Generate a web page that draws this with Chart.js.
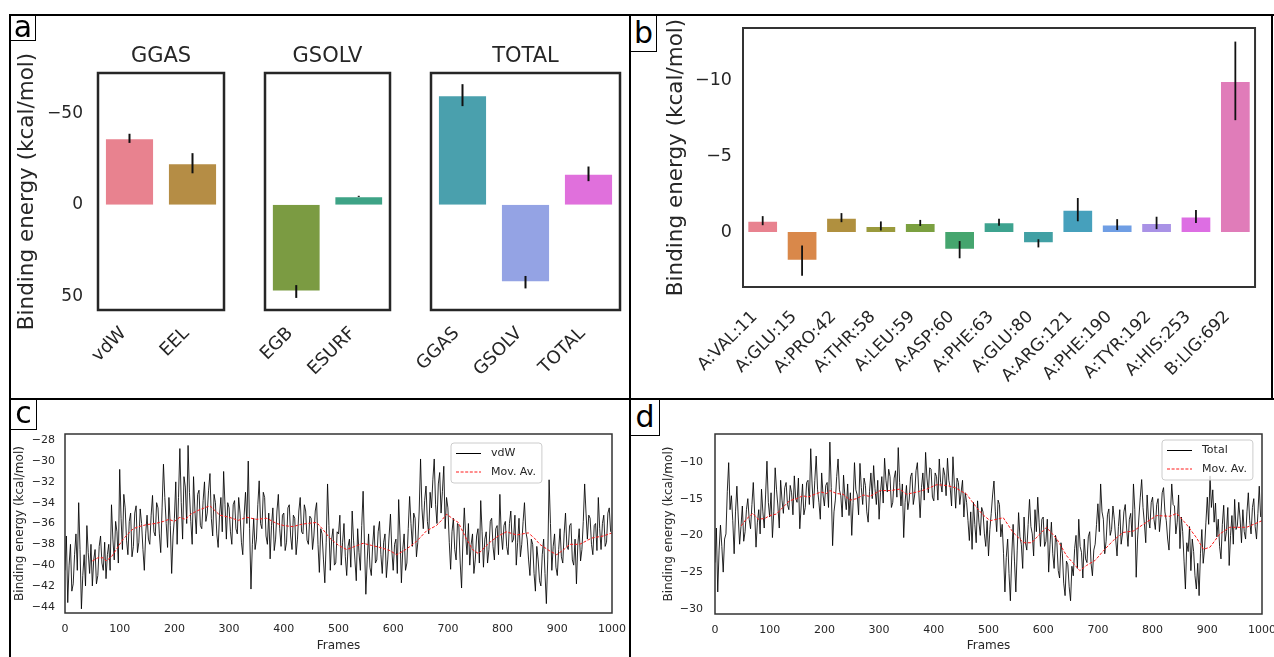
<!DOCTYPE html>
<html>
<head>
<meta charset="utf-8">
<title>Binding energy</title>
<script src="https://cdn.jsdelivr.net/npm/chart.js@4.4.1/dist/chart.umd.min.js"></script>
<style>
  body { margin: 0; background: #fff; overflow: hidden; font-family: "DejaVu Sans", sans-serif; }
  #fig { position: relative; width: 1274px; height: 657px; overflow: hidden; }
  canvas { position: absolute; }
  .rule { position: absolute; background: #000; }
  .tag { position: absolute; border: 1.5px solid #000; background: #fff; color: #000;
         font-size: 30px; text-align: center; box-sizing: border-box; }
</style>
</head>
<body>
<div id="fig">
  <canvas id="ggasChart" width="220" height="355" style="left:12px;top:40px"></canvas>
  <canvas id="gsolvChart" width="178" height="355" style="left:220px;top:40px"></canvas>
  <canvas id="totalChart" width="242" height="355" style="left:386px;top:40px"></canvas>
  <canvas id="residueChart" width="638" height="397" style="left:632px;top:0px"></canvas>
  <canvas id="vdwChart" width="626" height="255" style="left:12px;top:402px"></canvas>
  <canvas id="totalTraceChart" width="656" height="255" style="left:632px;top:402px"></canvas>

  <div class="rule" style="left:9px;top:14px;width:1265px;height:2px"></div>
  <div class="rule" style="left:9px;top:14px;width:2px;height:643px"></div>
  <div class="rule" style="left:629px;top:14px;width:2px;height:643px"></div>
  <div class="rule" style="left:9px;top:398px;width:1265px;height:2px"></div>
  <div class="rule" style="left:1271px;top:14px;width:2px;height:386px"></div>

  <div class="tag" style="left:10px;top:15px;width:26px;height:26px;line-height:22px">a</div>
  <div class="tag" style="left:630px;top:15px;width:27px;height:37px;line-height:34px">b</div>
  <div class="tag" style="left:10px;top:399px;width:27px;height:31px;line-height:26px">c</div>
  <div class="tag" style="left:630px;top:399px;width:30px;height:37px;line-height:34px">d</div>
</div>

<script>
// panel a: energy terms (kcal/mol), axis reversed
const ggasLabels = ['vdW', 'EEL'];
const ggasValues = [-36.3, -22.7];
const ggasErrors = [2.5, 5.5];
const ggasColors = ['#e8828f', '#b58d45'];

const gsolvLabels = ['EGB', 'ESURF'];
const gsolvValues = [47.4, -4.6];
const gsolvErrors = [3.5, 0.3];
const gsolvColors = ['#7b9b42', '#3ea386'];

const totalLabels = ['GGAS', 'GSOLV', 'TOTAL'];
const totalValues = [-59.9, 42.3, -16.9];
const totalErrors = [6.0, 3.4, 4.0];
const totalColors = ['#4aa0ad', '#94a3e4', '#e070dc'];

const energyTicks = [-50, 0, 50];

// panel b: per-residue decomposition
const residues = ['A:VAL:11', 'A:GLU:15', 'A:PRO:42', 'A:THR:58', 'A:LEU:59', 'A:ASP:60', 'A:PHE:63',
  'A:GLU:80', 'A:ARG:121', 'A:PHE:190', 'A:TYR:192', 'A:HIS:253', 'B:LIG:692'];
const residueValues = [-0.75, 1.9, -0.95, -0.4, -0.6, 1.17, -0.64, 0.75, -1.48, -0.49, -0.6, -1.02, -10.0];
const residueErrors = [0.3, 1.0, 0.3, 0.3, 0.2, 0.57, 0.23, 0.27, 0.77, 0.36, 0.41, 0.43, 2.6];
const residueColors = ['#e8828f', '#d9884a', '#b0903f', '#9a9a3c', '#7ba040', '#45a56e', '#3ea38f',
  '#41a0a4', '#46a0bc', '#6f9ee4', '#a992e6', '#dd6ee3', '#e07cb9'];
const residueTicks = [-10, -5, 0];

// panels c and d: frames sampled every 2.5
const frames = Array.from({ length: 400 }, (_, i) => i * 2.5);
const frameTicks = [0, 100, 200, 300, 400, 500, 600, 700, 800, 900, 1000];

const vdwValues = [
  -40.5, -37.2, -43.6, -40.0, -38.0, -42.5, -41.8, -39.0, -37.0, -40.5, -34.0, -38.5, -44.2, -41.0, -39.0, -42.0, -36.2, -38.8, -40.8, -38.0,
  -42.0, -39.5, -38.5, -41.8, -41.0, -38.2, -37.2, -39.8, -40.5, -37.8, -41.3, -39.0, -38.0, -40.5, -34.2, -37.5, -39.5, -35.8, -36.8, -39.8,
  -30.8, -35.5, -38.5, -33.2, -34.5, -37.6, -39.0, -35.8, -35.0, -39.2, -38.2, -35.0, -34.3, -38.8, -37.8, -34.6, -36.0, -38.5, -40.5, -37.0,
  -35.2, -37.5, -38.0, -35.2, -33.3, -36.8, -37.2, -34.0, -34.5, -37.0, -38.8, -34.5, -30.3, -33.5, -36.0, -38.3, -33.5, -36.2, -40.8, -37.2,
  -35.5, -32.0, -38.0, -33.5, -28.8, -34.0, -37.5, -31.5, -32.5, -36.0, -28.5, -33.0, -35.8, -38.0, -31.5, -34.8, -37.0, -33.2, -32.8, -36.2,
  -36.5, -33.8, -32.0, -35.8, -35.0, -32.8, -31.2, -35.5, -37.2, -33.2, -34.0, -37.0, -38.3, -35.2, -33.5, -36.8, -31.0, -34.2, -37.5, -34.0,
  -34.5, -36.8, -38.0, -34.2, -33.8, -36.5, -37.0, -33.5, -35.0, -37.8, -39.0, -35.2, -33.0, -36.0, -30.0, -36.5, -42.3, -38.0, -35.5, -38.5,
  -37.5, -34.2, -31.9, -36.0, -36.5, -33.0, -33.5, -37.2, -38.0, -35.0, -39.4, -36.2, -34.5, -38.6, -37.5, -34.8, -33.2, -36.5, -38.2, -35.2,
  -35.0, -38.6, -37.8, -34.5, -34.2, -37.2, -38.5, -35.2, -35.5, -39.0, -37.5, -34.8, -33.5, -36.8, -37.0, -34.2, -34.8, -37.6, -38.0, -35.3,
  -35.5, -38.5, -37.2, -34.8, -34.0, -38.0, -40.7, -36.5, -37.0, -39.5, -41.7, -37.8, -32.2, -36.2, -40.5, -37.5, -36.5, -40.0, -39.8, -36.8,
  -37.0, -35.2, -40.0, -37.8, -36.0, -39.2, -41.0, -38.2, -37.5, -40.2, -34.8, -37.6, -39.5, -41.5, -36.5, -38.8, -40.5, -36.2, -32.9, -38.0,
  -42.8, -39.5, -37.0, -40.2, -41.0, -38.0, -36.2, -39.8, -39.5, -36.8, -35.8, -39.0, -40.8, -37.8, -37.0, -41.2, -39.5, -37.2, -35.1, -38.6,
  -40.5, -38.0, -37.5, -40.8, -33.7, -37.2, -41.7, -38.5, -37.0, -40.5, -39.8, -36.5, -33.4, -36.0, -38.2, -35.0, -35.5, -39.2, -37.8, -34.8,
  -29.8, -34.5, -36.5, -33.8, -32.4, -35.8, -37.0, -33.0, -34.5, -31.8, -29.8, -34.2, -36.0, -32.2, -31.1, -35.0, -32.9, -30.5, -36.5, -33.5,
  -34.5, -37.8, -40.4, -36.8, -35.5, -38.5, -39.5, -36.0, -36.2, -39.8, -42.2, -37.5, -34.5, -37.2, -39.0, -36.0, -40.0, -38.0, -37.0, -40.8,
  -39.5, -37.2, -36.5, -39.8, -33.8, -36.8, -40.2, -37.5, -36.8, -39.8, -38.5, -35.8, -35.5, -38.2, -39.5, -36.5, -36.2, -39.0, -33.2, -37.0,
  -38.5, -36.2, -35.8, -38.2, -39.0, -36.0, -34.8, -37.8, -37.5, -35.2, -40.0, -37.8, -35.5, -39.2, -38.0, -35.8, -34.0, -36.8, -37.5, -39.5,
  -41.0, -37.5, -38.0, -40.8, -42.5, -38.2, -39.5, -41.5, -42.0, -39.0, -37.5, -40.8, -43.7, -39.5, -31.8, -36.0, -40.5, -38.2, -37.0, -40.2,
  -41.0, -38.5, -36.5, -39.2, -39.8, -37.0, -35.0, -38.2, -38.5, -36.2, -36.0, -39.5, -40.0, -37.5, -41.8, -38.0, -36.5, -39.6, -38.5, -35.8,
  -32.2, -35.0, -37.5, -35.2, -35.5, -38.0, -39.0, -36.2, -36.0, -38.6, -33.5, -36.5, -38.5, -36.0, -35.2, -38.2, -37.8, -35.0, -34.5, -36.8
];
const vdwAvgFrames = [50, 60, 70, 75, 85, 95, 105, 115, 125, 135, 150, 165, 180, 190, 200, 210, 220, 230,
  245, 265, 283, 300, 317, 332, 350, 369, 387, 400, 417, 430, 442, 460, 472, 484, 500, 515, 530, 545,
  560, 576, 594, 606, 620, 631, 643, 661, 679, 690, 698, 710, 719, 734, 745, 756, 767, 777, 792, 807,
  826, 847, 858, 868, 885, 899, 912, 923, 941, 963, 984, 1000];
const vdwAvgValues = [-39.6, -39.3, -39.3, -39.6, -39.2, -38.4, -37.6, -37.0, -36.5, -36.3, -36.1, -36.0,
  -35.8, -35.6, -35.8, -35.4, -35.6, -35.1, -34.7, -34.3, -35.2, -35.4, -35.7, -35.4, -35.6, -35.5,
  -36.0, -36.2, -36.3, -36.1, -36.0, -35.9, -36.6, -37.4, -38.1, -38.5, -38.2, -37.9, -38.1, -38.3,
  -38.6, -39.0, -38.6, -38.2, -37.7, -36.7, -36.2, -35.6, -35.1, -35.6, -35.9, -37.5, -38.5, -38.9,
  -38.3, -37.8, -37.2, -36.8, -37.1, -36.9, -37.4, -38.0, -38.6, -39.0, -38.5, -38.0, -38.0, -37.4,
  -37.2, -36.9];
const vdwTicks = [-44, -42, -40, -38, -36, -34, -32, -30, -28];

const totalTraceValues = [
  -23.7, -19.0, -27.7, -22.0, -18.6, -21.5, -25.0, -20.5, -19.8, -14.0, -10.1, -16.5, -14.6, -18.0, -22.5, -16.8, -13.3, -17.5, -21.2, -18.8,
  -16.0, -20.8, -19.5, -16.5, -15.0, -17.8, -19.1, -15.8, -12.8, -17.0, -21.6, -18.2, -16.5, -19.8, -13.7, -16.8, -19.0, -14.5, -9.9, -15.5,
  -17.5, -14.2, -20.3, -16.8, -10.8, -13.8, -16.0, -19.0, -12.5, -15.2, -17.0, -13.5, -12.8, -15.8, -16.5, -13.2, -14.2, -17.2, -11.9, -15.0,
  -15.5, -12.2, -19.1, -16.0, -13.0, -17.2, -16.2, -12.8, -12.5, -15.8, -8.2, -13.0, -16.3, -12.5, -9.2, -13.8, -15.5, -17.8, -11.5, -14.5,
  -16.0, -13.2, -12.8, -16.2, -7.3, -13.5, -21.4, -16.8, -15.2, -12.0, -9.6, -13.8, -14.6, -17.5, -11.8, -14.8, -16.5, -13.0, -17.3, -14.2,
  -20.0, -15.5, -10.1, -13.8, -14.5, -17.2, -10.2, -13.5, -15.8, -12.2, -13.2, -16.8, -18.2, -14.0, -11.5, -15.0, -10.5, -13.6, -15.8, -12.5,
  -17.8, -14.2, -12.0, -15.6, -9.5, -12.5, -14.1, -11.0, -12.0, -16.2, -15.5, -12.2, -11.2, -14.8, -8.05, -12.8, -16.0, -13.0, -20.3, -15.5,
  -13.2, -16.5, -15.2, -12.0, -11.5, -15.8, -14.5, -11.2, -10.1, -14.0, -17.6, -13.5, -11.5, -15.2, -8.7, -12.2, -14.2, -10.8, -11.0, -14.8,
  -15.3, -11.5, -12.0, -15.2, -9.6, -12.8, -14.1, -10.8, -11.8, -14.6, -9.5, -12.5, -13.5, -16.0, -9.3, -13.0, -16.3, -12.2, -12.8, -15.8,
  -14.1, -12.5, -17.5, -14.2, -15.5, -18.0, -20.7, -16.8, -21.9, -15.5, -18.5, -21.0, -15.3, -18.2, -20.0, -16.2, -16.8, -19.8, -21.5, -18.0,
  -22.8, -19.2, -17.0, -14.5, -12.6, -16.8, -19.5, -15.2, -15.8, -20.2, -18.5, -22.5, -27.7, -23.0, -20.5, -25.2, -28.9, -22.8, -18.5, -23.5,
  -27.7, -22.0, -16.9, -20.2, -21.2, -24.5, -17.5, -21.0, -22.0, -18.5, -15.1, -18.8, -19.8, -22.8, -16.5, -19.5, -14.8, -18.2, -21.5, -17.8,
  -17.5, -21.5, -20.8, -17.8, -25.0, -21.2, -18.2, -22.5, -24.5, -20.0, -21.0, -24.8, -25.8, -21.0, -22.5, -26.5, -28.2, -23.5, -24.0, -27.0,
  -28.9, -24.2, -25.5, -21.8, -20.0, -24.5, -17.8, -21.5, -22.3, -25.8, -20.5, -23.2, -23.7, -20.2, -19.5, -23.8, -25.5, -22.0, -21.2, -18.5,
  -15.7, -19.5, -13.0, -16.8, -17.8, -22.5, -20.8, -17.2, -16.4, -20.0, -19.2, -16.0, -17.8, -20.5, -22.8, -18.8, -16.5, -21.2, -19.8, -16.8,
  -15.8, -19.0, -21.5, -17.8, -17.0, -20.2, -13.0, -16.5, -25.7, -20.5, -17.5, -14.8, -12.4, -16.2, -18.4, -21.0, -14.5, -17.8, -19.0, -15.5,
  -14.8, -17.8, -19.2, -15.8, -15.0, -19.5, -17.5, -14.2, -13.5, -16.8, -18.0, -20.5, -22.0, -17.2, -13.0, -15.8, -16.0, -19.8, -18.2, -14.5,
  -21.8, -17.5, -19.5, -23.5, -27.3, -21.0, -22.2, -18.8, -24.8, -20.5, -22.2, -25.5, -27.3, -23.8, -28.2, -22.5, -19.2, -23.8, -21.8, -18.2,
  -14.8, -18.5, -11.9, -16.2, -13.8, -18.2, -15.6, -20.2, -17.8, -21.5, -23.2, -18.5, -15.9, -20.8, -19.5, -16.2, -24.1, -20.0, -17.3, -21.2,
  -15.1, -19.2, -18.7, -15.5, -17.8, -21.0, -16.5, -19.5, -20.5, -16.8, -14.2, -18.0, -19.8, -16.2, -15.0, -18.8, -20.5, -17.0, -13.3, -17.5
];
const totalAvgFrames = [48, 57, 69, 79, 91, 100, 112, 124, 136, 149, 161, 170, 179, 194, 204, 210, 222, 234,
  247, 259, 271, 283, 302, 320, 338, 350, 369, 387, 405, 423, 439, 460, 478, 490, 503, 521, 527, 545,
  564, 579, 594, 606, 625, 643, 661, 667, 679, 695, 710, 728, 746, 765, 783, 807, 832, 844, 862, 880,
  893, 905, 923, 941, 972, 1000];
const totalAvgValues = [-18.7, -17.8, -17.0, -17.8, -17.7, -17.3, -17.1, -16.2, -15.3, -15.0, -14.6, -14.8,
  -14.5, -14.1, -14.3, -13.9, -14.3, -14.4, -15.2, -15.0, -14.5, -14.7, -13.9, -13.9, -13.7, -14.4,
  -14.1, -13.7, -13.1, -13.2, -13.5, -14.4, -16.2, -17.2, -18.0, -17.7, -17.6, -19.6, -21.0, -21.0,
  -19.8, -18.9, -20.5, -22.8, -24.3, -24.8, -24.1, -23.4, -22.1, -20.7, -19.6, -19.4, -18.5, -17.3,
  -17.4, -17.0, -18.5, -20.3, -21.9, -21.6, -19.8, -18.9, -18.9, -18.0];
const totalTraceTicks = [-30, -25, -20, -15, -10];

const font = '"DejaVu Sans", sans-serif';
const ink = '#262626';
Chart.defaults.font.family = font;

function minus(v) {
  return String(v).replace('-', '\u2212');
}

function fixedTicks(list) {
  return function (scale) {
    scale.ticks = list.map(v => ({ value: v }));
  };
}

// frame around the plotting area
function boxFrame(color, width) {
  return {
    id: 'boxFrame',
    afterDatasetsDraw(chart) {
      const { ctx, chartArea: a } = chart;
      ctx.save();
      ctx.strokeStyle = color;
      ctx.lineWidth = width;
      ctx.strokeRect(a.left, a.top, a.right - a.left, a.bottom - a.top);
      ctx.restore();
    }
  };
}

function errorBars(errors, width) {
  return {
    id: 'errorBars',
    afterDatasetsDraw(chart) {
      const { ctx } = chart;
      const y = chart.scales.y;
      const values = chart.data.datasets[0].data;
      ctx.save();
      ctx.strokeStyle = '#111';
      ctx.lineWidth = width;
      chart.getDatasetMeta(0).data.forEach((bar, i) => {
        ctx.beginPath();
        ctx.moveTo(bar.x, y.getPixelForValue(values[i] - errors[i]));
        ctx.lineTo(bar.x, y.getPixelForValue(values[i] + errors[i]));
        ctx.stroke();
      });
      ctx.restore();
    }
  };
}

function groupTitle(text) {
  return {
    id: 'groupTitle',
    afterDraw(chart) {
      const { ctx, chartArea: a } = chart;
      ctx.save();
      ctx.fillStyle = ink;
      ctx.font = '21px ' + font;
      ctx.textAlign = 'center';
      ctx.textBaseline = 'middle';
      ctx.fillText(text, (a.left + a.right) / 2, a.top - 16);
      ctx.restore();
    }
  };
}

function lineLegend(items, dx, dy) {
  return {
    id: 'lineLegend',
    afterDraw(chart) {
      const { ctx, chartArea: a } = chart;
      ctx.save();
      ctx.font = '11px ' + font;
      const textW = Math.max(...items.map(it => ctx.measureText(it.label).width));
      const x = a.left + dx, y = a.top + dy;
      const w = 40 + textW + 6, h = 40;
      ctx.fillStyle = 'rgba(255,255,255,0.8)';
      ctx.strokeStyle = '#cccccc';
      ctx.lineWidth = 1;
      ctx.beginPath();
      ctx.roundRect(x, y, w, h, 3);
      ctx.fill();
      ctx.stroke();
      items.forEach((it, i) => {
        const ly = y + 10.5 + i * 18.5;
        ctx.strokeStyle = it.color;
        ctx.setLineDash(it.dash);
        ctx.beginPath();
        ctx.moveTo(x + 5, ly);
        ctx.lineTo(x + 30, ly);
        ctx.stroke();
        ctx.setLineDash([]);
        ctx.fillStyle = ink;
        ctx.textBaseline = 'middle';
        ctx.fillText(it.label, x + 40, ly);
      });
      ctx.restore();
    }
  };
}

function groupChart(id, labels, values, errors, colors, title, showAxis, yWidth) {
  return new Chart(document.getElementById(id), {
    type: 'bar',
    data: {
      labels: labels,
      datasets: [{
        data: values,
        backgroundColor: colors,
        borderColor: 'rgba(255,255,255,0.55)',
        borderWidth: 1,
        barPercentage: 0.78,
        categoryPercentage: 1
      }]
    },
    options: {
      responsive: false,
      animation: false,
      devicePixelRatio: 1,
      layout: { padding: { top: 33, right: 8, left: 0, bottom: 0 } },
      plugins: { legend: { display: false }, tooltip: { enabled: false } },
      scales: {
        x: {
          grid: { display: false, drawTicks: false },
          border: { display: false },
          ticks: {
            color: ink, font: { size: 18 }, minRotation: 45, maxRotation: 45, autoSkip: false,
            padding: 13, labelOffset: -6
          },
          afterFit: s => { s.height = 85; }
        },
        y: {
          reverse: true,
          min: -72,
          max: 57.5,
          afterBuildTicks: fixedTicks(energyTicks),
          grid: { display: false, drawTicks: false },
          border: { display: false },
          ticks: { display: showAxis, color: ink, font: { size: 17 }, padding: 15, callback: minus },
          title: {
            display: showAxis, text: 'Binding energy (kcal/mol)', color: ink,
            font: { size: 21.5 }, padding: { top: 3, bottom: 0 }
          },
          afterFit: s => { s.width = yWidth; }
        }
      }
    },
    plugins: [boxFrame(ink, 2.5), errorBars(errors, 2), groupTitle(title)]
  });
}

groupChart('ggasChart', ggasLabels, ggasValues, ggasErrors, ggasColors, 'GGAS', true, 86);
groupChart('gsolvChart', gsolvLabels, gsolvValues, gsolvErrors, gsolvColors, 'GSOLV', false, 45);
groupChart('totalChart', totalLabels, totalValues, totalErrors, totalColors, 'TOTAL', false, 45);

new Chart(document.getElementById('residueChart'), {
  type: 'bar',
  data: {
    labels: residues,
    datasets: [{
      data: residueValues,
      backgroundColor: residueColors,
      borderColor: 'rgba(255,255,255,0.55)',
      borderWidth: 1,
      barPercentage: 0.78,
      categoryPercentage: 1
    }]
  },
  options: {
    responsive: false,
    animation: false,
    devicePixelRatio: 1,
    layout: { padding: { top: 28, right: 6, left: 0, bottom: 0 } },
    plugins: { legend: { display: false }, tooltip: { enabled: false } },
    scales: {
      x: {
        grid: { display: false, drawTicks: false },
        border: { display: false },
        ticks: {
          color: ink, font: { size: 17 }, minRotation: 45, maxRotation: 45, autoSkip: false,
          padding: 20, labelOffset: -8
        },
        afterFit: s => { s.height = 110; }
      },
      y: {
        reverse: true,
        min: -13.5,
        max: 3.64,
        afterBuildTicks: fixedTicks(residueTicks),
        grid: { display: false, drawTicks: false },
        border: { display: false },
        ticks: { color: ink, font: { size: 17.5 }, padding: 11, callback: minus },
        title: {
          display: true, text: 'Binding energy (kcal/mol)', color: ink,
          font: { size: 21.5 }, padding: { top: 32, bottom: 0 }
        },
        afterFit: s => { s.width = 111; }
      }
    }
  },
  plugins: [boxFrame('#333', 2), errorBars(residueErrors, 1.8)]
});

function traceChart(id, name, values, avgFrames, avgValues, yMin, yMax, yTicks, yWidth, xHeight, titlePad, tickPad, legendX, legendY) {
  return new Chart(document.getElementById(id), {
    type: 'line',
    data: {
      datasets: [
        {
          label: 'Mov. Av.',
          data: avgFrames.map((f, i) => ({ x: f, y: avgValues[i] })),
          borderColor: '#ff1a1a',
          borderWidth: 1,
          borderDash: [3, 1.6]
        },
        {
          label: name,
          data: frames.map((f, i) => ({ x: f, y: values[i] })),
          borderColor: '#000',
          borderWidth: 0.85
        }
      ]
    },
    options: {
      responsive: false,
      animation: false,
      devicePixelRatio: 1,
      elements: { point: { radius: 0 }, line: { tension: 0 } },
      layout: { padding: { top: 32, right: 26, left: 0, bottom: 0 } },
      plugins: { legend: { display: false }, tooltip: { enabled: false } },
      scales: {
        x: {
          type: 'linear',
          min: 0,
          max: 1000,
          afterBuildTicks: fixedTicks(frameTicks),
          grid: { display: false, drawTicks: false },
          border: { display: false },
          ticks: { color: ink, font: { size: 11 }, padding: 10, maxRotation: 0, callback: v => String(v) },
          title: { display: true, text: 'Frames', color: ink, font: { size: 12 }, padding: { top: 0, bottom: 4 } },
          afterFit: s => { s.height = xHeight; }
        },
        y: {
          min: yMin,
          max: yMax,
          afterBuildTicks: fixedTicks(yTicks),
          grid: { display: false, drawTicks: false },
          border: { display: false },
          ticks: { color: ink, font: { size: 11 }, padding: tickPad, callback: minus },
          title: {
            display: true, text: 'Binding energy (kcal/mol)', color: ink,
            font: { size: 12 }, padding: { top: titlePad, bottom: 0 }
          },
          afterFit: s => { s.width = yWidth; }
        }
      }
    },
    plugins: [
      boxFrame('#333', 1.5),
      lineLegend([
        { label: name, color: '#000', dash: [] },
        { label: 'Mov. Av.', color: '#ff1a1a', dash: [3, 1.6] }
      ], legendX, legendY)
    ]
  });
}

traceChart('vdwChart', 'vdW', vdwValues, vdwAvgFrames, vdwAvgValues, -44.6, -27.4, vdwTicks, 53, 44, 1, 10, 386, 9);
traceChart('totalTraceChart', 'Total', totalTraceValues, totalAvgFrames, totalAvgValues, -30.7, -6.2, totalTraceTicks, 83, 43, 30, 12, 447, 6);
</script>
</body>
</html>
